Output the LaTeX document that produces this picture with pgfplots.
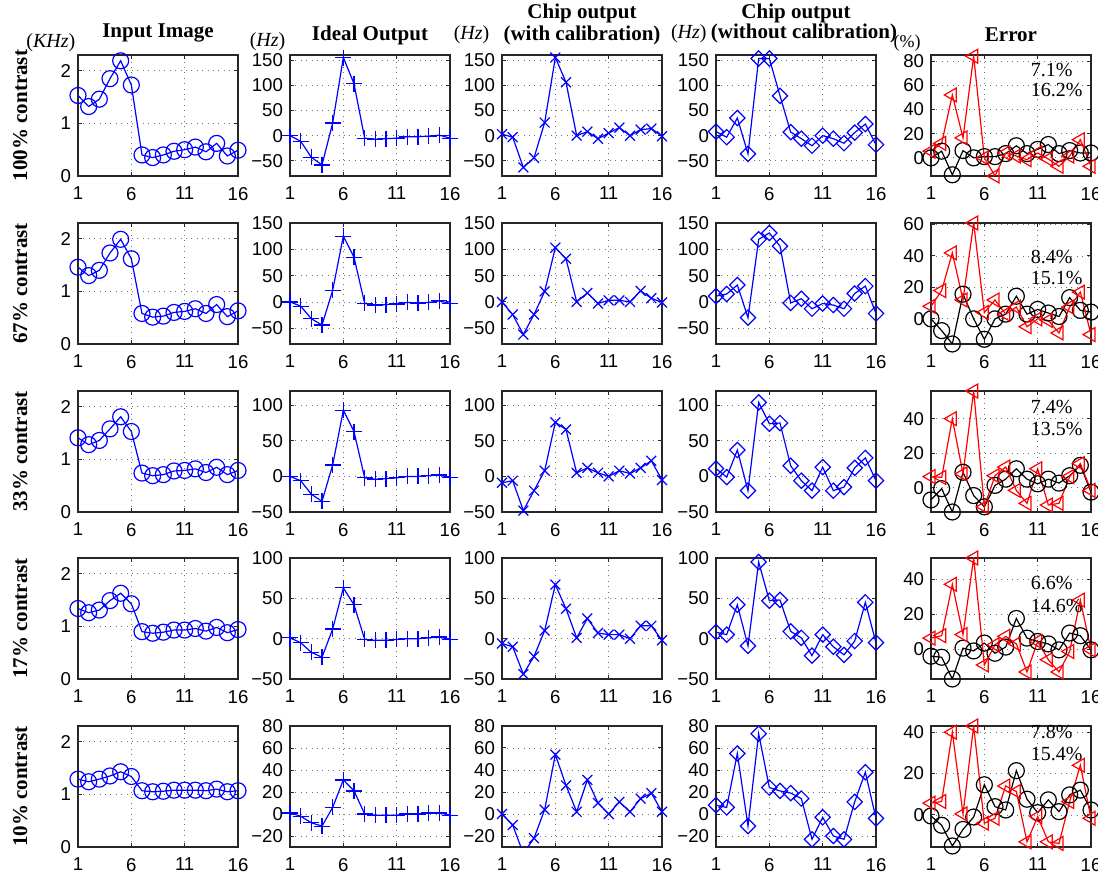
\documentclass[border=0pt]{standalone}
\usepackage{fontspec}
\setmainfont{Liberation Serif}
\setsansfont{Liberation Sans}
\usepackage{pgfplots}
\usepackage{pgfplotstable}
\pgfplotsset{compat=1.18}

% input image (KHz), one column per contrast row
\pgfplotstableread{
x  r1   r2   r3   r4   r5
1  1.53 1.46 1.41 1.34 1.29
2  1.32 1.30 1.28 1.26 1.24
3  1.46 1.40 1.36 1.31 1.29
4  1.85 1.73 1.58 1.49 1.35
5  2.19 1.99 1.81 1.63 1.43
6  1.73 1.62 1.53 1.43 1.34
7  0.40 0.58 0.74 0.90 1.07
8  0.35 0.51 0.69 0.87 1.05
9  0.40 0.53 0.71 0.89 1.06
10 0.47 0.60 0.78 0.93 1.08
11 0.50 0.62 0.79 0.93 1.08
12 0.55 0.67 0.82 0.96 1.08
13 0.46 0.58 0.75 0.91 1.07
14 0.62 0.75 0.85 0.98 1.10
15 0.38 0.52 0.71 0.88 1.05
16 0.49 0.63 0.79 0.94 1.07
}\inimg

% ideal output (Hz)
\pgfplotstableread{
x  r1  r2  r3  r4  r5
1  0   0   0   1   1
2  -11 -8  -6  -5  -2
3  -43 -32 -25 -17 -8
4  -58 -44 -35 -23 -11
5  25  22  16  12  6
6  155 125 93  63  31
7  103 85  63  42  21
8  -5  -3  -2  -1  0
9  -7  -6  -4  -2  -1
10 -6  -5  -3  -2  -1
11 -5  -4  -2  -1  -1
12 -2  -1  0   0   0
13 -2  -2  0   0   0
14 -1  -1  1   1   1
15 1   2   2   2   1
16 -5  -3  -2  -1  -1
}\ideal

% chip output with calibration (Hz)
\pgfplotstableread{
x  r1  r2  r3  r4  r5
1  3   0   -9  -6  0
2  -3  -24 -6  -10 -10
3  -63 -62 -48 -44 -36
4  -44 -24 -20 -22 -22
5  26  20  8   10  4
6  155 103 76  67  54
7  106 82  66  37  26
8  0   0   5   1   2
9  8   17  12  25  31
10 -6  -3  5   7   10
11 5   3   0   5   0
12 16  3   8   5   11
13 0   0   4   0   2
14 12  21  12  16  14
15 14  7   22  16  19
16 -1  -1  -5  -2  2
}\cal

% chip output without calibration (Hz)
\pgfplotstableread{
x  r1  r2  r3  r4  r5
1  8   11  11  8   8
2  -3  15  -1  5   6
3  35  32  37  42  55
4  -36 -30 -20 -9  -11
5  153 119 104 95  73
6  153 131 74  47  24
7  79  106 75  48  21
8  7   -2  15  9   19
9  -6  6   -6  1   14
10 -20 -13 -20 -21 -23
11 0   -3  13  5   -3
12 -6  -6  -20 -10 -20
13 -15 -13 -15 -20 -23
14 6   16  12  -3  11
15 23  30  26  45  38
16 -18 -22 -6  -5  -4
}\nocal

% error (%), without calibration
\pgfplotstableread{
x  r1   r2  r3   r4   r5
1  5.5  8   6.5  6.3  5.7
2  12   18  6    7.7  6.5
3  52   42  40   37   40
4  16.5 12  8    8.3  0.5
5  84   61  56   52   43
6  0    4   -11  -9   -4
7  -15  12  7    2.5  -1.6
8  4    3   12   7.3  14
9  1.5  7.5 -1.5 3    11.3
10 -1.5 -5  -9   -13  -13
11 4    0   11   4.4  -0.8
12 -1   -1  -10  -6   -13
13 -7   -9  -9   -13  -13.8
14 1.5  7.5 6.5  -1.3 6.5
15 15   17  14   28   24
16 -7   -10 -1.5 -0.4 -1.6
}\errred

% error (%), with calibration
\pgfplotstableread{
x  r1   r2    r3   r4   r5
1  0    0     -7   -4   -0.5
2  5.5  -7.5  -0.5 -4.6 -5
3  -14  -16   -14  -17  -15
4  6    15.7  9    0.6  -7
5  0    0     -4.5 -1   -1
6  1    -13   -11  3.5  14.6
7  1    0     1.4  -2.3 4
8  3.5  3     5    1.2  2.4
9  10   14.4  11   17.5 21.4
10 3.5  3     5    6.3  7.6
11 7    6     2.3  4.4  1.1
12 11   3.7   5    3    7.3
13 3.5  1.5   2.7  -0.4 1.6
14 6    13.5  7    9.2  9.7
15 4    5.4   13   7.7  12
16 4    4.3   -2.5 -0.4 2.4
}\errblk

\newcommand\titlefont{\bfseries\fontsize{10.5}{12}\selectfont}
\newcommand\unitfont{\fontsize{10}{12}\selectfont}
\newcommand\annfont{\fontsize{10}{12}\selectfont}

\pgfplotsset{
  panel/.style={
    scale only axis, width=80pt, height=60.5pt, anchor=north west,
    xmin=1, xmax=16, xtick={1,6,11,16},
    grid=major, grid style={black!55, line width=0.4pt, dash pattern=on 0.5pt off 2.2pt},
    axis line style={black!85, line width=0.6pt},
    tick align=inside, major tick length=2pt,
    every tick/.style={black!85, line width=0.5pt},
    ticklabel style={font=\sffamily\fontsize{9.3}{9.3}\selectfont, text=black},
    xticklabel style={yshift=-2pt},
    /pgf/number format/assume math mode=true,
  },
  khz/.style={ymin=0, ymax=2.3, ytick={0,1,2}},
  hzA/.style={ymin=-80, ymax=160, ytick={-50,0,50,100,150}, yticklabels={−50,0,50,100,150}},
  hzB/.style={ymin=-80, ymax=150, ytick={-50,0,50,100,150}, yticklabels={−50,0,50,100,150}},
  hzC/.style={ymin=-50, ymax=120, ytick={-50,0,50,100}, yticklabels={−50,0,50,100}},
  hzD/.style={ymin=-50, ymax=100, ytick={-50,0,50,100}, yticklabels={−50,0,50,100}},
  hzE/.style={ymin=-30, ymax=80, ytick={-20,0,20,40,60,80}, yticklabels={−20,0,20,40,60,80}},
  inser/.style={blue, line width=0.6pt, mark=o, mark size=4pt, mark options={solid}},
  idser/.style={blue, line width=0.6pt, mark=+, mark size=4pt, mark options={solid}},
  calser/.style={blue, line width=0.6pt, mark=x, mark size=3.5pt, mark options={solid}},
  ncser/.style={blue, line width=0.6pt, mark=square, mark size=2.7pt, mark options={solid, rotate=45}},
  errr/.style={red, line width=0.6pt, mark=triangle, mark size=4pt, mark options={solid, rotate=90}},
  errk/.style={black, line width=0.6pt, mark=o, mark size=4pt, mark options={solid}},
}

\begin{document}
\begin{tikzpicture}
\useasboundingbox (0,0) rectangle (549pt,436.5pt);

% ---------------- row 1: 100% contrast ----------------
\begin{axis}[panel, khz, at={(39pt,409pt)},
  extra description/.code={
    \node[font=\titlefont] at (0.5,1.18) {Input Image};
    \node[font=\unitfont] at (-0.17,1.10) {({\itshape KHz})};
    \node[font=\titlefont, rotate=90] at (-0.36,0.5) {100\% contrast};}]
\addplot[inser] table[y=r1]{\inimg};
\end{axis}
\begin{axis}[panel, hzA, at={(145pt,409pt)},
  extra description/.code={
    \node[font=\titlefont] at (0.5,1.165) {Ideal Output};
    \node[font=\unitfont] at (-0.14,1.107) {({\itshape Hz})};}]
\addplot[idser] table[y=r1]{\ideal};
\end{axis}
\begin{axis}[panel, hzA, at={(251pt,409pt)},
  extra description/.code={
    \node[font=\titlefont] at (0.5,1.34) {Chip output};
    \node[font=\titlefont] at (0.5,1.165) {(with calibration)};
    \node[font=\unitfont] at (-0.19,1.165) {({\itshape Hz})};}]
\addplot[calser] table[y=r1]{\cal};
\end{axis}
\begin{axis}[panel, hzA, at={(358pt,409pt)},
  extra description/.code={
    \node[font=\titlefont] at (0.5,1.34) {Chip output};
    \node[font=\titlefont] at (0.55,1.18) {(without calibration)};
    \node[font=\unitfont] at (-0.17,1.18) {({\itshape Hz})};}]
\addplot[ncser] table[y=r1]{\nocal};
\end{axis}
\begin{axis}[panel, ymin=-15, ymax=85, ytick={0,20,40,60,80}, at={(465.5pt,409pt)},
  extra description/.code={
    \node[font=\titlefont] at (0.5,1.165) {Error};
    \node[font=\fontsize{9}{10}\selectfont] at (-0.15,1.10) {(\%)};
    \node[font=\annfont, anchor=west] at (0.58,0.876) {7.1\%};
    \node[font=\annfont, anchor=west] at (0.58,0.71) {16.2\%};}]
\addplot[errk] table[y=r1]{\errblk};
\addplot[errr] table[y=r1]{\errred};
\end{axis}

% ---------------- row 2: 67% contrast ----------------
\begin{axis}[panel, khz, at={(39pt,325pt)},
  extra description/.code={
    \node[font=\titlefont, rotate=90] at (-0.36,0.5) {67\% contrast};}]
\addplot[inser] table[y=r2]{\inimg};
\end{axis}
\begin{axis}[panel, hzB, at={(145pt,325pt)}]
\addplot[idser] table[y=r2]{\ideal};
\end{axis}
\begin{axis}[panel, hzB, at={(251pt,325pt)}]
\addplot[calser] table[y=r2]{\cal};
\end{axis}
\begin{axis}[panel, hzB, at={(358pt,325pt)}]
\addplot[ncser] table[y=r2]{\nocal};
\end{axis}
\begin{axis}[panel, ymin=-16, ymax=61, ytick={0,20,40,60}, at={(465.5pt,325pt)},
  extra description/.code={
    \node[font=\annfont, anchor=west] at (0.58,0.72) {8.4\%};
    \node[font=\annfont, anchor=west] at (0.58,0.545) {15.1\%};}]
\addplot[errk] table[y=r2]{\errblk};
\addplot[errr] table[y=r2]{\errred};
\end{axis}

% ---------------- row 3: 33% contrast ----------------
\begin{axis}[panel, khz, at={(39pt,241pt)},
  extra description/.code={
    \node[font=\titlefont, rotate=90] at (-0.36,0.5) {33\% contrast};}]
\addplot[inser] table[y=r3]{\inimg};
\end{axis}
\begin{axis}[panel, hzC, at={(145pt,241pt)}]
\addplot[idser] table[y=r3]{\ideal};
\end{axis}
\begin{axis}[panel, hzC, at={(251pt,241pt)}]
\addplot[calser] table[y=r3]{\cal};
\end{axis}
\begin{axis}[panel, hzC, at={(358pt,241pt)}]
\addplot[ncser] table[y=r3]{\nocal};
\end{axis}
\begin{axis}[panel, ymin=-14, ymax=56, ytick={0,20,40}, at={(465.5pt,241pt)},
  extra description/.code={
    \node[font=\annfont, anchor=west] at (0.58,0.87) {7.4\%};
    \node[font=\annfont, anchor=west] at (0.58,0.69) {13.5\%};}]
\addplot[errk] table[y=r3]{\errblk};
\addplot[errr] table[y=r3]{\errred};
\end{axis}

% ---------------- row 4: 17% contrast ----------------
\begin{axis}[panel, khz, at={(39pt,157.5pt)},
  extra description/.code={
    \node[font=\titlefont, rotate=90] at (-0.36,0.5) {17\% contrast};}]
\addplot[inser] table[y=r4]{\inimg};
\end{axis}
\begin{axis}[panel, hzD, at={(145pt,157.5pt)}]
\addplot[idser] table[y=r4]{\ideal};
\end{axis}
\begin{axis}[panel, hzD, at={(251pt,157.5pt)}]
\addplot[calser] table[y=r4]{\cal};
\end{axis}
\begin{axis}[panel, hzD, at={(358pt,157.5pt)}]
\addplot[ncser] table[y=r4]{\nocal};
\end{axis}
\begin{axis}[panel, ymin=-17, ymax=52, ytick={0,20,40}, at={(465.5pt,157.5pt)},
  extra description/.code={
    \node[font=\annfont, anchor=west] at (0.58,0.79) {6.6\%};
    \node[font=\annfont, anchor=west] at (0.58,0.60) {14.6\%};}]
\addplot[errk] table[y=r4]{\errblk};
\addplot[errr] table[y=r4]{\errred};
\end{axis}

% ---------------- row 5: 10% contrast ----------------
\begin{axis}[panel, khz, at={(39pt,73.5pt)},
  extra description/.code={
    \node[font=\titlefont, rotate=90] at (-0.36,0.5) {10\% contrast};}]
\addplot[inser] table[y=r5]{\inimg};
\end{axis}
\begin{axis}[panel, hzE, at={(145pt,73.5pt)}]
\addplot[idser] table[y=r5]{\ideal};
\end{axis}
\begin{axis}[panel, hzE, at={(251pt,73.5pt)}]
\addplot[calser, mark=none] table[y=r5]{\cal};
\addplot[calser, only marks, restrict y to domain=-30:100] table[y=r5]{\cal};
\end{axis}
\begin{axis}[panel, hzE, at={(358pt,73.5pt)}]
\addplot[ncser] table[y=r5]{\nocal};
\end{axis}
\begin{axis}[panel, ymin=-15.5, ymax=43, ytick={0,20,40}, at={(465.5pt,73.5pt)},
  extra description/.code={
    \node[font=\annfont, anchor=west] at (0.58,0.95) {7.8\%};
    \node[font=\annfont, anchor=west] at (0.58,0.77) {15.4\%};}]
\addplot[errk] table[y=r5]{\errblk};
\addplot[errr] table[y=r5]{\errred};
\end{axis}
\end{tikzpicture}
\end{document}
